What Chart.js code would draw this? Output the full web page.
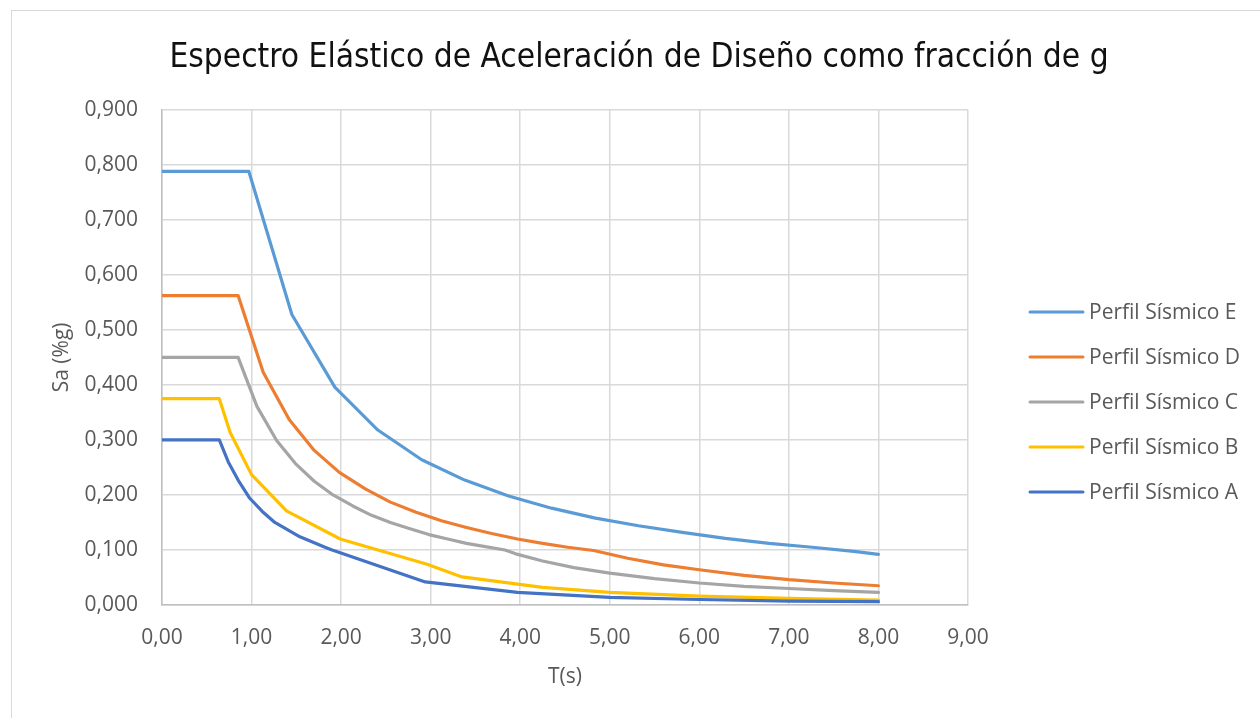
<!DOCTYPE html>
<html>
<head>
<meta charset="utf-8">
<script src="https://cdn.jsdelivr.net/npm/chart.js@4.4.1/dist/chart.umd.min.js"></script>
<style>
  html, body { margin: 0; padding: 0; background: #fff; }
  #wrap { position: relative; width: 1260px; height: 718px; overflow: hidden; }
  #frame { position: absolute; left: 11px; top: 10px; width: 1300px; height: 760px;
           border-left: 1.5px solid #d9d9d9; border-top: 1.5px solid #d9d9d9; box-sizing: border-box; }
  canvas { position: absolute; left: 0; top: 0; }
</style>
</head>
<body>
<div id="wrap">
  <div id="frame"></div>
  <canvas id="chart" width="1260" height="718"></canvas>
</div>
<script>
// Espectro elástico de diseño Sa(T) por perfil sísmico
const seriesNames = ['Perfil Sísmico E', 'Perfil Sísmico D', 'Perfil Sísmico C', 'Perfil Sísmico B', 'Perfil Sísmico A'];
const seriesColors = ['#5B9BD5', '#ED7D31', '#A5A5A5', '#FFC000', '#4472C4'];

// Perfil E
const tE  = [0, 0.97, 1.45, 1.93, 2.41, 2.90, 3.38, 3.87, 4.35, 4.84, 5.32, 5.81, 6.29, 6.78, 7.26, 7.75, 8.00];
const saE = [0.788, 0.788, 0.528, 0.396, 0.318, 0.264, 0.227, 0.198, 0.176, 0.158, 0.144, 0.132, 0.121, 0.112, 0.105, 0.097, 0.092];

// Perfil D
const tD  = [0, 0.85, 1.13, 1.42, 1.70, 1.98, 2.27, 2.55, 2.83, 3.12, 3.40, 3.68, 3.97, 4.25, 4.53, 4.82, 5.20, 5.60, 6.00, 6.50, 7.00, 7.50, 8.00];
const saD = [0.5625, 0.5625, 0.423, 0.337, 0.281, 0.241, 0.211, 0.187, 0.169, 0.153, 0.141, 0.130, 0.120, 0.112, 0.105, 0.099, 0.085, 0.073, 0.064, 0.054, 0.046, 0.040, 0.035];

// Perfil C
const tC  = [0, 0.85, 1.06, 1.28, 1.49, 1.70, 1.91, 2.13, 2.34, 2.55, 2.76, 2.98, 3.19, 3.40, 3.61, 3.83, 3.95, 4.25, 4.60, 5.00, 5.50, 6.00, 6.50, 7.00, 7.50, 8.00];
const saC = [0.450, 0.450, 0.361, 0.299, 0.257, 0.225, 0.200, 0.180, 0.163, 0.150, 0.139, 0.128, 0.120, 0.112, 0.106, 0.100, 0.093, 0.080, 0.068, 0.058, 0.048, 0.040, 0.034, 0.030, 0.026, 0.023];

// Perfil B
const tB  = [0, 0.64, 0.76, 1.00, 1.39, 1.99, 2.96, 3.35, 4.25, 5.00, 6.00, 7.00, 8.00];
const saB = [0.375, 0.375, 0.314, 0.237, 0.171, 0.120, 0.074, 0.051, 0.032, 0.023, 0.016, 0.012, 0.009];

// Perfil A
const tA  = [0, 0.64, 0.74, 0.85, 0.98, 1.12, 1.26, 1.54, 1.82, 1.90, 2.94, 3.97, 5.00, 6.00, 7.00, 8.00];
const saA = [0.300, 0.300, 0.260, 0.227, 0.194, 0.170, 0.150, 0.124, 0.105, 0.100, 0.042, 0.023, 0.014, 0.010, 0.007, 0.006];

// Ejes
const xMin = 0, xMax = 9, xStep = 1;
const yMin = 0, yMax = 0.9, yStep = 0.1;

const periods = [tE, tD, tC, tB, tA];
const accels  = [saE, saD, saC, saB, saA];

const toPoints = (t, sa) => t.map((x, i) => ({ x: x, y: sa[i] }));
const comma = (v, d) => v.toFixed(d).replace('.', ',');

const FONT = "'Open Sans', 'Noto Sans', sans-serif";
const TEXT = '#595959';

// Leyenda a la derecha del área de trazado
const sideLegend = {
  id: 'sideLegend',
  afterDraw(chart) {
    const ctx = chart.ctx;
    const x0 = 1030, x1 = 1083, tx = 1089, y0 = 312, gap = 45;
    ctx.save();
    ctx.font = '21px ' + FONT;
    ctx.textBaseline = 'middle';
    ctx.textAlign = 'left';
    chart.data.datasets.forEach((ds, i) => {
      const y = y0 + i * gap;
      ctx.strokeStyle = ds.borderColor;
      ctx.lineWidth = 3;
      ctx.lineCap = 'round';
      ctx.beginPath();
      ctx.moveTo(x0, y);
      ctx.lineTo(x1, y);
      ctx.stroke();
      ctx.fillStyle = TEXT;
      ctx.fillText(ds.label, tx, y + 1);
    });
    ctx.restore();
  }
};

new Chart(document.getElementById('chart'), {
  type: 'line',
  data: {
    datasets: seriesNames.map((name, i) => ({
      label: name,
      data: toPoints(periods[i], accels[i]),
      borderColor: seriesColors[i],
      backgroundColor: seriesColors[i],
      borderWidth: 3.2,
      pointRadius: 0,
      tension: 0,
      fill: false,
      borderJoinStyle: 'round',
      borderCapStyle: 'round',
      order: seriesNames.length - i
    }))
  },
  options: {
    responsive: false,
    animation: false,
    devicePixelRatio: 1,
    layout: { padding: { left: 18, right: 0, top: 0, bottom: 0 } },
    plugins: {
      legend: { display: false },
      tooltip: { enabled: false },
      title: {
        display: true,
        text: 'Espectro Elástico de Aceleración de Diseño como fracción de g',
        color: '#111',
        font: { family: "'Liberation Sans Narrow', 'DejaVu Sans Condensed', 'Open Sans', sans-serif", size: 33.2, weight: 'normal' },
        padding: { top: 38, bottom: 32 }
      }
    },
    scales: {
      x: {
        type: 'linear',
        min: xMin, max: xMax,
        ticks: {
          stepSize: xStep,
          color: TEXT,
          font: { family: FONT, size: 21 },
          padding: 20,
          callback: v => comma(v, 2)
        },
        grid: { color: '#d9d9d9', lineWidth: 1.5, drawTicks: false },
        border: { color: '#bfbfbf', width: 1.5 },
        title: {
          display: true, text: 'T(s)', color: TEXT,
          font: { family: FONT, size: 21 },
          padding: { top: 0, bottom: 28 }
        },
        afterFit: s => { s.height = 113; }
      },
      y: {
        min: yMin, max: yMax,
        ticks: {
          stepSize: yStep,
          color: TEXT,
          font: { family: FONT, size: 21 },
          padding: 24,
          callback: v => comma(v, 3)
        },
        grid: { color: '#d9d9d9', lineWidth: 1.5, drawTicks: false },
        border: { color: '#bfbfbf', width: 1.5 },
        title: {
          display: true, text: 'Sa (%g)', color: TEXT,
          font: { family: FONT, size: 21 },
          padding: { top: 31, bottom: 0 }
        },
        afterFit: s => { s.width = 144; }
      },
      // columna derecha reservada para la leyenda
      legendSpace: {
        position: 'right',
        display: true,
        ticks: { display: false },
        grid: { display: false, drawTicks: false },
        border: { display: false },
        afterFit: s => { s.width = 292; }
      }
    }
  },
  plugins: [sideLegend]
});
</script>
</body>
</html>
